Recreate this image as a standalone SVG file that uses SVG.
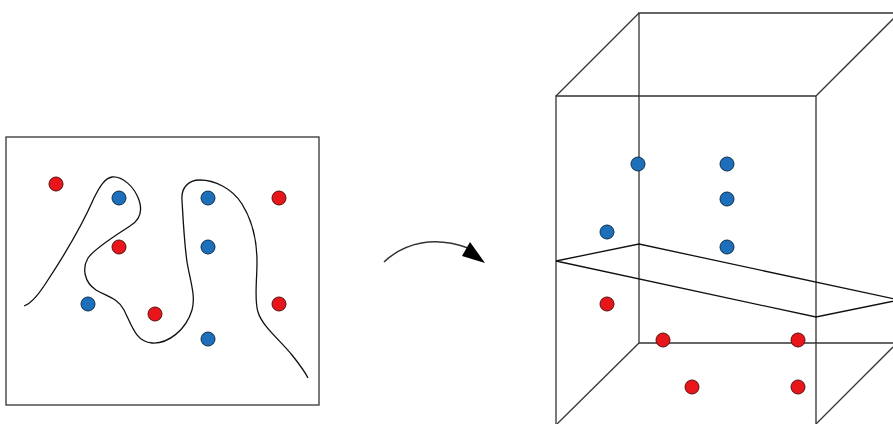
<svg xmlns="http://www.w3.org/2000/svg" width="893" height="424" viewBox="0 0 893 424">
<style>
.ln{fill:none;stroke:#333;stroke-width:1.3}
.pl{fill:none;stroke:#111;stroke-width:1.3}
.r{fill:#e8151b;stroke:#5a1010;stroke-width:1}
.b{fill:#1c6fb8;stroke:#0f2f50;stroke-width:1}
</style>
<rect width="893" height="424" fill="#fff"/>
<g id="left-panel">
<rect class="ln" x="6" y="137" width="313" height="268"/>
<path class="pl" d="M24,306 C30,304 36,298 44,286 C60,262 80,230 94,198 C100,186 105,178 112,177 C122,176 134,186 139,200 C143,212 140,220 130,226 C115,236 95,248 88,258 C82,268 84,282 96,290 C106,296 118,298 124,310 C132,326 136,342 152,343 C168,344 186,330 192,310 C196,296 190,280 187,262 C184,240 183,218 182,200 C181,188 188,180 200,180 C214,180 232,188 242,204 C252,220 257,240 257,262 C257,282 254,300 258,312 C262,326 280,340 292,355 C300,365 305,372 308,378"/>
<g id="l-dots">
<circle class="r" cx="56" cy="184" r="7"/>
<circle class="b" cx="119" cy="198" r="7"/>
<circle class="b" cx="208" cy="198" r="7"/>
<circle class="r" cx="279" cy="198" r="7"/>
<circle class="r" cx="119" cy="247" r="7"/>
<circle class="b" cx="208" cy="247" r="7"/>
<circle class="b" cx="88" cy="304" r="7"/>
<circle class="r" cx="155" cy="314" r="7"/>
<circle class="r" cx="279" cy="304" r="7"/>
<circle class="b" cx="208" cy="339" r="7"/>
</g>
</g>
<g id="connectors">
<path d="M384,262 C405,242 435,236 468,248" fill="none" stroke="#333" stroke-width="1.5"/>
<polygon points="470,242 462,256 485,263" fill="#000"/>
</g>
<g id="right-panel">
<g id="box">
<polyline class="ln" points="556,424 556,96 816,96 816,424"/>
<polyline class="ln" points="639,343 639,13 893,13"/>
<line class="ln" x1="639" y1="343" x2="893" y2="343"/>
<line class="ln" x1="556" y1="96" x2="639" y2="13"/>
<line class="ln" x1="816" y1="96" x2="894" y2="18"/>
<line class="ln" x1="639" y1="343" x2="557" y2="424"/>
<line class="ln" x1="893" y1="347" x2="816" y2="424"/>
</g>
<polygon id="plane" class="pl" points="556,261 639,244 899,300 816,317"/>
<g id="r-dots">
<circle class="b" cx="638" cy="164" r="7"/>
<circle class="b" cx="727" cy="164" r="7"/>
<circle class="b" cx="727" cy="199" r="7"/>
<circle class="b" cx="607" cy="232" r="7"/>
<circle class="b" cx="727" cy="247" r="7"/>
<circle class="r" cx="607" cy="304" r="7"/>
<circle class="r" cx="663" cy="340" r="7"/>
<circle class="r" cx="798" cy="340" r="7"/>
<circle class="r" cx="692" cy="387" r="7"/>
<circle class="r" cx="798" cy="387" r="7"/>
</g>
</g>
</svg>
